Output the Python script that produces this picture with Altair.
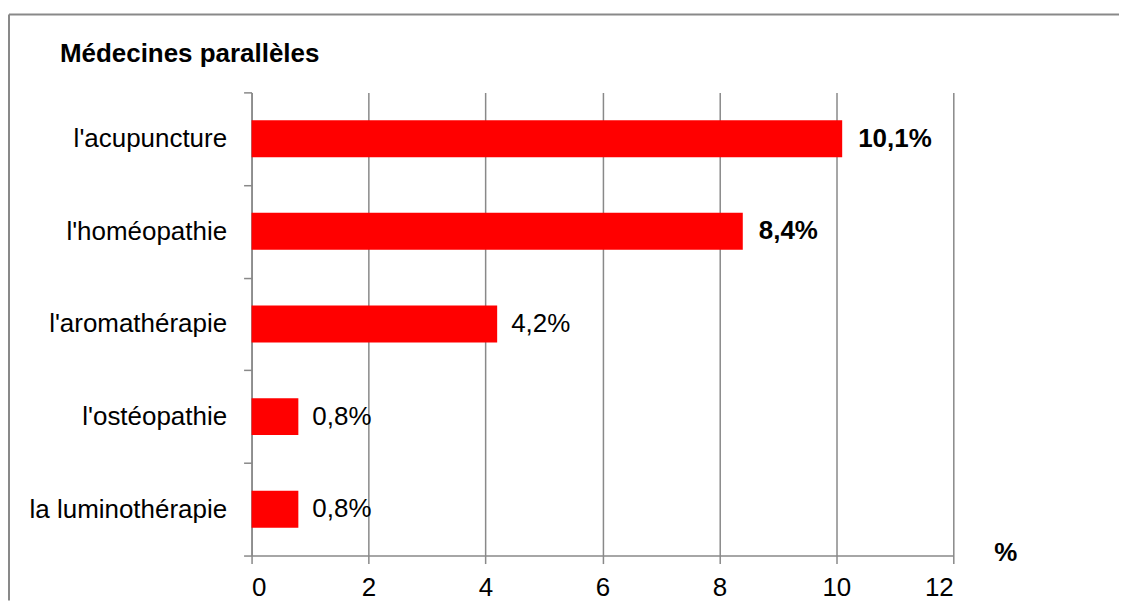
import altair as alt
import pandas as pd

categories = ["l'acupuncture", "l'homéopathie", "l'aromathérapie", "l'ostéopathie", "la luminothérapie"]
values = [10.1, 8.4, 4.2, 0.8, 0.8]
labels = ["10,1%", "8,4%", "4,2%", "0,8%", "0,8%"]
weights = ["bold", "bold", "normal", "normal", "normal"]
x_ticks = [0, 2, 4, 6, 8, 10, 12]

df = pd.DataFrame({"cat": categories, "val": values, "label": labels, "weight": weights})
one = pd.DataFrame({"k": [0]})

FONT = "Liberation Sans"
GRAY = "#898989"
FS = 26

x = alt.X("val:Q", scale=alt.Scale(domain=[0, 12], nice=False),
          axis=alt.Axis(values=x_ticks, format="d", grid=True, gridColor=GRAY, gridWidth=1.5,
                        domainColor=GRAY, domainWidth=1.5, tickColor=GRAY, tickWidth=1.5,
                        tickSize=8, labelFontSize=FS, labelFont=FONT, labelColor="black",
                        labelPadding=11, title="%", titleFontSize=FS, titleFont=FONT,
                        titleFontWeight="bold", titleColor="black", titleX=755, titleY=5,
                        titleAlign="center", titleBaseline="alphabetic"))
y = alt.Y("cat:N", sort=categories, scale=alt.Scale(paddingInner=0, paddingOuter=0),
          axis=alt.Axis(title=None, tickBand="extent", labelFontSize=FS, labelFont=FONT,
                        labelColor="black", labelPadding=17, labelLimit=400, tickSize=8,
                        tickColor=GRAY, tickWidth=1.5, domainColor=GRAY, domainWidth=1.5,
                        grid=False))

bars = alt.Chart(df).mark_bar(color="#FF0000", size=37).encode(x=x, y=y)

txt_bold = alt.Chart(df).transform_filter(alt.datum.weight == "bold").mark_text(
    align="left", baseline="middle", dx=16, fontSize=FS, font=FONT, fontWeight="bold", color="black"
).encode(x="val:Q", y=alt.Y("cat:N", sort=categories), text="label:N")

txt_norm = alt.Chart(df).transform_filter(alt.datum.weight == "normal").mark_text(
    align="left", baseline="middle", dx=14, fontSize=FS, font=FONT, color="black"
).encode(x="val:Q", y=alt.Y("cat:N", sort=categories), text="label:N")

border_top = alt.Chart(one).mark_rule(color=GRAY, strokeWidth=2).encode(
    x=alt.value(-243), x2=alt.value(869), y=alt.value(-78))
border_left = alt.Chart(one).mark_rule(color=GRAY, strokeWidth=2).encode(
    x=alt.value(-243), y=alt.value(-78), y2=alt.value(509))

chart = alt.layer(border_top, border_left, bars, txt_bold, txt_norm).properties(
    width=703, height=464,
    title=alt.TitleParams("Médecines parallèles", anchor="start", frame="bounds", dx=52,
                          fontSize=FS, font=FONT, fontWeight="bold", color="black",
                          baseline="alphabetic", offset=-75),
    padding={"left": 0, "top": 5, "right": 0, "bottom": 0},
).configure_view(stroke=None)

chart.save("out.html", embed_options={"renderer": "svg", "actions": False})
